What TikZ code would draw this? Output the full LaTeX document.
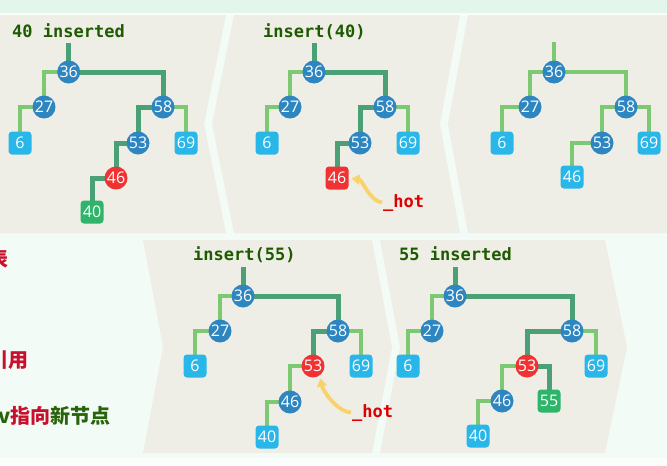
\documentclass[tikz,border=0pt]{standalone}
\usepackage{fontspec}
\newfontfamily\numfont{Open Sans}
\newfontfamily\codefont{DejaVu Sans Mono}
\newfontfamily\cjk{Noto Sans CJK SC}
\usetikzlibrary{arrows.meta}
\definecolor{bgmint}{RGB}{243,251,246}
\definecolor{topband}{RGB}{226,246,236}
\definecolor{panelfill}{RGB}{238,238,230}
\definecolor{nodeblue}{RGB}{46,134,193}
\definecolor{leafblue}{RGB}{41,182,232}
\definecolor{hotred}{RGB}{240,50,50}
\definecolor{newgreen}{RGB}{46,181,106}
\definecolor{pathgreen}{RGB}{76,160,117}
\definecolor{edgegreen}{RGB}{125,200,115}
\definecolor{titlegreen}{RGB}{30,90,0}
\definecolor{labelred}{RGB}{220,0,0}
\definecolor{arrowyellow}{RGB}{248,210,106}
\definecolor{cjkred}{RGB}{200,16,46}
\definecolor{cjkgreen}{RGB}{40,100,10}
\pgfdeclarelayer{panels}
\pgfdeclarelayer{edges}
\pgfsetlayers{panels,edges,main}
\tikzset{
  bn/.style={circle,fill=nodeblue,minimum size=23pt,inner sep=0pt,text=white,font=\numfont\fontsize{16}{17}\selectfont},
  rn/.style={bn,fill=hotred},
  lf/.style={rectangle,rounded corners=3.5pt,fill=leafblue,minimum size=23pt,inner sep=0pt,text=white,font=\numfont\fontsize{16}{17}\selectfont},
  rlf/.style={lf,fill=hotred},
  glf/.style={lf,fill=newgreen},
  pathedge/.style={draw=pathgreen,line width=5pt},
  thinedge/.style={draw=edgegreen,line width=3.5pt},
  ttl/.style={anchor=base west,inner sep=0pt,text=titlegreen,font=\codefont\bfseries\fontsize{17}{18}\selectfont},
  hotlbl/.style={anchor=base west,inner sep=0pt,text=labelred,font=\codefont\bfseries\fontsize{17}{18}\selectfont},
  hotarrow/.style={draw=arrowyellow,line width=3.8pt,-{Triangle[length=8pt,width=10pt]}},
  panel/.style={fill=panelfill,draw=none},
  sidetxt/.style={anchor=east,inner sep=0pt,font=\cjk\bfseries\fontsize{20}{22}\selectfont}
}
\begin{document}
\begin{tikzpicture}[x=1pt,y=-1pt]
\useasboundingbox (0,0) rectangle (667,466);
\clip (0,0) rectangle (667,466);
\begin{pgfonlayer}{panels}
\fill[bgmint] (0,0) rectangle (667,466);
\fill[topband] (0,0) rectangle (667,13);
\fill[white,opacity=0.7] (0,13) rectangle (667,16);
\fill[white,opacity=0.6] (0,458) rectangle (667,466);
% top row (pointing left)
\path[panel] (-10,15) -- (226,15) -- (204,124) -- (226,233) -- (-10,233) -- cycle;
\path[panel] (234,15) -- (460,15) -- (440,124) -- (460,233) -- (234,233) -- (212,124) -- cycle;
\path[panel] (468,15) -- (680,15) -- (680,233) -- (468,233) -- (448,124) -- cycle;
% bottom row (pointing right)
\path[panel] (143,240) -- (372,240) -- (392,347) -- (372,453) -- (143,453) -- (163,347) -- cycle;
\path[panel] (380,240) -- (605,240) -- (627,347) -- (605,453) -- (380,453) -- (400,347) -- cycle;
\end{pgfonlayer}

% side text (cut off at the left edge, as in the reference)
\node[sidetxt,text=cjkred] (s1) at (9,259) {表};
\node[sidetxt,text=cjkred] (s2) at (29,360) {引用};
\node[sidetxt] (s3) at (111,416) {{\color{cjkgreen}v}{\color{cjkred}指向}{\color{cjkgreen}新节点}};

% ---------- panel 1: 40 inserted
\node[ttl] (ttl1) at (12,37.5) {40 inserted};
\coordinate (t1) at (68.7,43);
\node[bn] (a36) at (68.7,72) {36};
\node[bn] (a27) at (44,107) {27};
\node[bn] (a58) at (163,107) {58};
\node[lf] (a6) at (20,143) {6};
\node[bn] (a53) at (138,143) {53};
\node[lf] (a69) at (186,143) {69};
\node[rn] (a46) at (116,178) {46};
\node[glf] (a40) at (92,212) {40};
\begin{pgfonlayer}{edges}
\draw[pathedge] (t1) -- (a36.center);
\draw[pathedge] (a36.center) -| (a58.center);
\draw[pathedge] (a58.center) -| (a53.center);
\draw[pathedge] (a53.center) -| (a46.center);
\draw[pathedge] (a46.center) -| (a40.center);
\draw[thinedge] (a36.center) -| (a27.center);
\draw[thinedge] (a27.center) -| (a6.center);
\draw[thinedge] (a58.center) -| (a69.center);
\end{pgfonlayer}

% ---------- panel 2: insert(40)
\node[ttl] (ttl2) at (263,37.5) {insert(40)};
\coordinate (t2) at (314,43);
\node[bn] (b36) at (314,72) {36};
\node[bn] (b27) at (290,107) {27};
\node[bn] (b58) at (385,107) {58};
\node[lf] (b6) at (267,143) {6};
\node[bn] (b53) at (360,143) {53};
\node[lf] (b69) at (408,143) {69};
\node[rlf] (b46) at (337,178) {46};
\node[hotlbl] (hot2) at (383,207) {\_hot};
\begin{pgfonlayer}{edges}
\draw[pathedge] (t2) -- (b36.center);
\draw[pathedge] (b36.center) -| (b58.center);
\draw[pathedge] (b58.center) -| (b53.center);
\draw[pathedge] (b53.center) -| (b46.center);
\draw[thinedge] (b36.center) -| (b27.center);
\draw[thinedge] (b27.center) -| (b6.center);
\draw[thinedge] (b58.center) -| (b69.center);
\end{pgfonlayer}
\draw[hotarrow,shorten >=3pt] ([xshift=-1pt]hot2.west) .. controls +(-13,-2) and +(14,2) .. (b46.east);

% ---------- panel 3: original tree
\coordinate (t3) at (554,42);
\node[bn] (c36) at (554,72) {36};
\node[bn] (c27) at (530,107) {27};
\node[bn] (c58) at (626,107) {58};
\node[lf] (c6) at (502,143) {6};
\node[bn] (c53) at (602,143) {53};
\node[lf] (c69) at (649,143) {69};
\node[lf] (c46) at (572,177) {46};
\begin{pgfonlayer}{edges}
\draw[thinedge] (t3) -- (c36.center);
\draw[thinedge] (c36.center) -| (c27.center);
\draw[thinedge] (c36.center) -| (c58.center);
\draw[thinedge] (c27.center) -| (c6.center);
\draw[thinedge] (c58.center) -| (c53.center);
\draw[thinedge] (c58.center) -| (c69.center);
\draw[thinedge] (c53.center) -| (c46.center);
\end{pgfonlayer}

% ---------- panel 4: insert(55)
\node[ttl] (ttl4) at (193,260.5) {insert(55)};
\coordinate (t4) at (243,267);
\node[bn] (d36) at (243,296) {36};
\node[bn] (d27) at (220,331) {27};
\node[bn] (d58) at (338,331) {58};
\node[lf] (d6) at (195,366) {6};
\node[rn] (d53) at (313,366) {53};
\node[lf] (d69) at (361,366) {69};
\node[bn] (d46) at (290,402) {46};
\node[lf] (d40) at (267,437) {40};
\node[hotlbl] (hot4) at (352,417) {\_hot};
\begin{pgfonlayer}{edges}
\draw[pathedge] (t4) -- (d36.center);
\draw[pathedge] (d36.center) -| (d58.center);
\draw[pathedge] (d58.center) -| (d53.center);
\draw[thinedge] (d36.center) -| (d27.center);
\draw[thinedge] (d27.center) -| (d6.center);
\draw[thinedge] (d58.center) -| (d69.center);
\draw[thinedge] (d53.center) -| (d46.center);
\draw[thinedge] (d46.center) -| (d40.center);
\end{pgfonlayer}
\draw[hotarrow,shorten >=3pt] ([xshift=-1pt]hot4.west) .. controls +(-16,-2) and +(3,14) .. (d53.-55);

% ---------- panel 5: 55 inserted
\node[ttl] (ttl5) at (399,260.5) {55 inserted};
\coordinate (t5) at (455,267);
\node[bn] (e36) at (455,296) {36};
\node[bn] (e27) at (432,331) {27};
\node[bn] (e58) at (572,331) {58};
\node[lf] (e6) at (408,366) {6};
\node[rn] (e53) at (527,366) {53};
\node[lf] (e69) at (596,366) {69};
\node[bn] (e46) at (502,401) {46};
\node[glf] (e55) at (549,401) {55};
\node[lf] (e40) at (478,436) {40};
\begin{pgfonlayer}{edges}
\draw[pathedge] (t5) -- (e36.center);
\draw[pathedge] (e36.center) -| (e58.center);
\draw[pathedge] (e58.center) -| (e53.center);
\draw[pathedge] (e53.center) -| (e55.center);
\draw[thinedge] (e36.center) -| (e27.center);
\draw[thinedge] (e27.center) -| (e6.center);
\draw[thinedge] (e58.center) -| (e69.center);
\draw[thinedge] (e53.center) -| (e46.center);
\draw[thinedge] (e46.center) -| (e40.center);
\end{pgfonlayer}
\end{tikzpicture}
\end{document}
